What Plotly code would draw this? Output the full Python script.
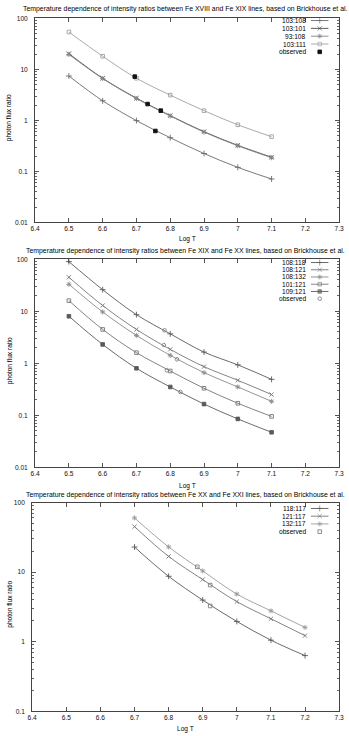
import plotly.graph_objects as go

# ---- data ----
logT_a = [6.5, 6.6, 6.7, 6.8, 6.9, 7.0, 7.1]
r103_108 = [7.4, 2.42, 0.99, 0.457, 0.224, 0.12, 0.071]
r103_101 = [20.4, 6.7, 2.73, 1.24, 0.60, 0.324, 0.19]
r93_108 = [19.6, 6.6, 2.68, 1.22, 0.59, 0.318, 0.185]
r103_111 = [54, 18.1, 6.7, 3.13, 1.55, 0.82, 0.48]
obs_a_T = [6.695, 6.733, 6.772, 6.756]
obs_a_r = [7.2, 2.09, 1.55, 0.62]

logT_b = [6.5, 6.6, 6.7, 6.8, 6.9, 7.0, 7.1]
r108_118 = [90, 26, 8.6, 3.68, 1.64, 0.93, 0.49]
r108_121 = [45, 12.9, 4.47, 1.85, 0.86, 0.47, 0.25]
r108_132 = [33, 9.7, 3.43, 1.42, 0.66, 0.35, 0.185]
r101_121 = [16, 4.47, 1.6, 0.71, 0.33, 0.17, 0.095]
r109_121 = [8.0, 2.3, 0.80, 0.35, 0.164, 0.085, 0.047]
obs_b_T = [6.783, 6.781, 6.82, 6.79, 6.83]
obs_b_r = [4.3, 2.24, 1.19, 0.73, 0.28]

logT_c = [6.7, 6.8, 6.9, 7.0, 7.1, 7.2]
r118_117 = [22.9, 8.7, 3.96, 1.95, 1.05, 0.63]
r121_117 = [45, 16.8, 7.8, 3.76, 2.13, 1.22]
r132_117 = [60, 23, 10.4, 4.83, 2.77, 1.6]
obs_c_T = [6.884, 6.922, 6.922]
obs_c_r = [11.9, 6.5, 3.26]

x_ticks = [6.4, 6.5, 6.6, 6.7, 6.8, 6.9, 7.0, 7.1, 7.2, 7.3]

W, H = 349, 736
FONT = "Liberation Sans"


def px(x):
    return x / W


def py(y):
    return 1 - y / H


def msize(sym):
    return 3.6 if ("square" in sym or "circle" in sym) else 4.2


# series: (name, x, y, symbol, color, with line)
panels = [
    dict(left=31, right=344, top=14.5, bottom=220.5, ylog=[-2, 2],
         title="Temperature dependence of intensity ratios between Fe XVIII and Fe XIX lines, based on Brickhouse et al.",
         title_y=5, xlab_y=237.5, leg_y0=16.7, leg_dy=7.9,
         series=[("103:108", logT_a, r103_108, "cross-thin-open", "#6a6a6a", True),
                 ("103:101", logT_a, r103_101, "x-thin-open", "#4a4a4a", True),
                 ("93:108", logT_a, r93_108, "asterisk-open", "#858585", True),
                 ("103:111", logT_a, r103_111, "square-open", "#a0a0a0", True),
                 ("observed", obs_a_T, obs_a_r, "square", "#111111", False)]),
    dict(left=31, right=344, top=257.7, bottom=467.7, ylog=[-2, 2],
         title="Temperature dependence of intensity ratios between Fe XIX and Fe XX lines, based on Brickhouse et al.",
         title_y=249, xlab_y=486.7, leg_y0=261, leg_dy=7.3,
         series=[("108:118", logT_b, r108_118, "cross-thin-open", "#5a5a5a", True),
                 ("108:121", logT_b, r108_121, "x-thin-open", "#757575", True),
                 ("108:132", logT_b, r108_132, "asterisk-open", "#8a8a8a", True),
                 ("101:121", logT_b, r101_121, "square-open", "#757575", True),
                 ("109:121", logT_b, r109_121, "square", "#5a5a5a", True),
                 ("observed", obs_b_T, obs_b_r, "circle-open", "#808080", False)]),
    dict(left=28, right=344, top=503.3, bottom=714, ylog=[-1, 2],
         title="Temperature dependence of intensity ratios between Fe XX and Fe XXI lines, based on Brickhouse et al.",
         title_y=496, xlab_y=731.5, leg_y0=509.3, leg_dy=7.8,
         series=[("118:117", logT_c, r118_117, "cross-thin-open", "#5a5a5a", True),
                 ("121:117", logT_c, r121_117, "x-thin-open", "#757575", True),
                 ("132:117", logT_c, r132_117, "asterisk-open", "#9a9a9a", True),
                 ("observed", obs_c_T, obs_c_r, "square-open", "#808080", False)]),
]

fig = go.Figure()
annotations = []
layout = {}

axis_style = dict(showline=True, mirror="allticks", linecolor="#444444", linewidth=1,
                  ticks="inside", ticklen=4, tickcolor="#555555", tickwidth=1,
                  showgrid=False, zeroline=False,
                  tickfont=dict(family=FONT, size=6.6, color="#111111"))

for i, p in enumerate(panels):
    n = "" if i == 0 else str(i + 1)
    xa, ya = "x" + n, "y" + n
    lo, hi = p["ylog"]
    major = [10.0 ** k for k in range(lo, hi + 1)]
    minor = [m * 10.0 ** k for k in range(lo, hi) for m in range(2, 10)]
    layout["xaxis" + n] = dict(axis_style, domain=[px(p["left"]), px(p["right"])], anchor=ya,
                               range=[6.4, 7.3], tickvals=x_ticks,
                               ticktext=[f"{v:g}" for v in x_ticks])
    layout["yaxis" + n] = dict(axis_style, domain=[py(p["bottom"]), py(p["top"])], anchor=xa,
                               type="log", range=[lo, hi], tickvals=major,
                               ticktext=[f"{v:g}" for v in major], ticklabelstandoff=5,
                               minor=dict(tickvals=minor, ticks="inside", ticklen=2,
                                          tickcolor="#666666", tickwidth=1))

    for name, xs, ys, sym, col, with_line in p["series"]:
        fig.add_trace(go.Scatter(
            x=xs, y=ys, xaxis=xa, yaxis=ya, showlegend=False,
            mode="lines+markers" if with_line else "markers",
            line=dict(shape="spline", smoothing=1.0, width=0.9, color=col),
            marker=dict(symbol=sym, size=msize(sym), color=col, line=dict(width=0.9, color=col))))

    # titles
    annotations.append(dict(text=p["title"], x=px(186), y=py(p["title_y"]), xref="paper", yref="paper",
                            showarrow=False, xanchor="center", yanchor="middle",
                            font=dict(family=FONT, size=6.9, color="#000")))
    annotations.append(dict(text="Log T", x=px((p["left"] + p["right"]) / 2), y=py(p["xlab_y"]),
                            xref="paper", yref="paper", showarrow=False,
                            xanchor="center", yanchor="middle",
                            font=dict(family=FONT, size=6.6, color="#000")))
    annotations.append(dict(text="photon flux ratio", x=px(5), y=py((p["top"] + p["bottom"]) / 2 - 3),
                            xref="paper", yref="paper", showarrow=False, textangle=-90,
                            xanchor="center", yanchor="middle",
                            font=dict(family=FONT, size=6.6, color="#000")))

    # gnuplot-style key: label on the left, sample on the right
    for k, (name, xs, ys, sym, col, with_line) in enumerate(p["series"]):
        yy = p["leg_y0"] + k * p["leg_dy"]
        annotations.append(dict(text=name, x=px(311.7), y=py(yy), xref="paper", yref="paper",
                                showarrow=False, xanchor="right", yanchor="middle",
                                font=dict(family=FONT, size=6.6, color="#000")))
        if with_line:
            kx, ky, ks = [315, 324, 333], [yy] * 3, [0, msize(sym), 0]
        else:
            kx, ky, ks = [324], [yy], msize(sym)
        fig.add_trace(go.Scatter(
            x=kx, y=ky, xaxis="x4", yaxis="y4", showlegend=False, hoverinfo="skip",
            mode="lines+markers" if with_line else "markers",
            line=dict(width=0.9, color=col),
            marker=dict(symbol=sym, size=ks, color=col, line=dict(width=0.9, color=col))))

layout["xaxis4"] = dict(domain=[0, 1], range=[0, W], visible=False, anchor="y4", fixedrange=True)
layout["yaxis4"] = dict(domain=[0, 1], range=[H, 0], visible=False, anchor="x4", fixedrange=True)

fig.update_layout(
    width=W, height=H, autosize=False,
    margin=dict(l=0, r=0, t=0, b=0, pad=0),
    paper_bgcolor="white", plot_bgcolor="rgba(0,0,0,0)",
    annotations=annotations,
    font=dict(family=FONT, size=6.6, color="#000"),
    **layout)

fig.write_html("out.html", config={"displayModeBar": False},
               post_script="document.body.style.margin='0';document.body.style.overflow='hidden';")
